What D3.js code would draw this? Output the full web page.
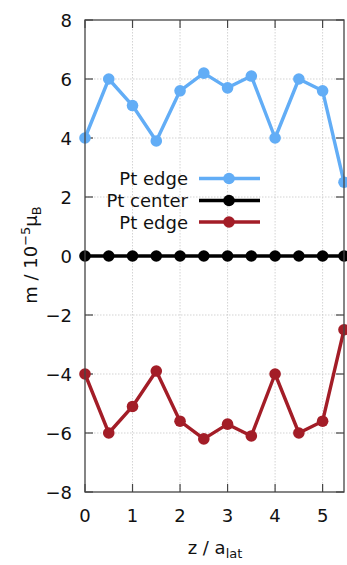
<!DOCTYPE html>
<html>
<head>
<meta charset="utf-8">
<script src="https://cdn.jsdelivr.net/npm/d3@7"></script>
<style>
  body { margin: 0; background: #fff; }
  svg { display: block; font-family: "DejaVu Sans", sans-serif; }
</style>
</head>
<body>
<svg id="chart" width="347" height="565"></svg>
<script>
// data
let zPos = [0, 0.5, 1, 1.5, 2, 2.5, 3, 3.5, 4, 4.5, 5, 5.45];
let edgeTop = [4.0, 6.0, 5.1, 3.9, 5.6, 6.2, 5.7, 6.1, 4.0, 6.0, 5.6, 2.5];
let center = [0, 0, 0, 0, 0, 0, 0, 0, 0, 0, 0, 0];
let edgeBot = [-4.0, -6.0, -5.1, -3.9, -5.6, -6.2, -5.7, -6.1, -4.0, -6.0, -5.6, -2.5];
let xTicks = [0, 1, 2, 3, 4, 5];
let yTicks = [-8, -6, -4, -2, 0, 2, 4, 6, 8];
let seriesNames = ['Pt edge', 'Pt center', 'Pt edge'];
let seriesColors = ['#62adf6', '#000000', '#a31d27'];

let svg = d3.select('#chart');
let margin = { left: 85, top: 20, right: 3, bottom: 73 };
let W = 347, H = 565;
let x = d3.scaleLinear().domain([0, 5.45]).range([margin.left, W - margin.right]);
let y = d3.scaleLinear().domain([-8, 8]).range([H - margin.bottom, margin.top]);

let x0 = x.range()[0], x1 = x.range()[1], y0 = y.range()[0], y1 = y.range()[1];
let fs = 18;

// grid
let grid = svg.append('g');
grid.selectAll('.gx').data(xTicks.slice(1)).enter().append('line')
    .attr('x1', d => x(d)).attr('x2', d => x(d))
    .attr('y1', y1).attr('y2', y0)
    .attr('stroke', '#c8c8c8').attr('stroke-width', 0.8).attr('stroke-dasharray', '1.5 1.5');
grid.selectAll('.gy').data(yTicks.slice(1, -1)).enter().append('line')
    .attr('x1', x0).attr('x2', x1)
    .attr('y1', d => y(d)).attr('y2', d => y(d))
    .attr('stroke', '#c8c8c8').attr('stroke-width', 0.8).attr('stroke-dasharray', '1.5 1.5');

// ticks (inward, on all four sides)
let tl = 8;
let tk = svg.append('g').attr('stroke', '#444').attr('stroke-width', 1.2);
xTicks.forEach(d => {
    tk.append('line').attr('x1', x(d)).attr('x2', x(d)).attr('y1', y0).attr('y2', y0 - tl);
    tk.append('line').attr('x1', x(d)).attr('x2', x(d)).attr('y1', y1).attr('y2', y1 + tl);
});
yTicks.forEach(d => {
    tk.append('line').attr('x1', x0).attr('x2', x0 + tl).attr('y1', y(d)).attr('y2', y(d));
    tk.append('line').attr('x1', x1).attr('x2', x1 - tl).attr('y1', y(d)).attr('y2', y(d));
});

// tick labels
svg.append('g').selectAll('text').data(xTicks).enter().append('text')
    .attr('x', d => x(d)).attr('y', 522)
    .attr('text-anchor', 'middle').attr('font-size', fs).attr('fill', '#111')
    .text(d => d);
svg.append('g').selectAll('text').data(yTicks).enter().append('text')
    .attr('x', 72).attr('y', d => y(d) + 6.5)
    .attr('text-anchor', 'end').attr('font-size', fs).attr('fill', '#111')
    .text(d => d < 0 ? '\u2212' + Math.abs(d) : d);

// series
let line = d3.line().x((d, i) => x(zPos[i])).y(d => y(d));
let allSeries = [edgeTop, center, edgeBot];
allSeries.forEach((s, k) => {
    let g = svg.append('g');
    g.append('path').datum(s)
        .attr('d', line)
        .attr('fill', 'none')
        .attr('stroke', seriesColors[k])
        .attr('stroke-width', 3.4)
        .attr('stroke-linejoin', 'round');
    g.selectAll('circle').data(s).enter().append('circle')
        .attr('cx', (d, i) => x(zPos[i]))
        .attr('cy', d => y(d))
        .attr('r', 5.8)
        .attr('fill', seriesColors[k]);
});

// frame
svg.append('rect')
    .attr('x', x0).attr('y', y1)
    .attr('width', x1 - x0).attr('height', y0 - y1)
    .attr('fill', 'none').attr('stroke', '#444').attr('stroke-width', 1.3);

// legend
let legY = [178.5, 200.5, 222];
seriesNames.forEach((name, k) => {
    let g = svg.append('g');
    g.append('text').attr('x', 188).attr('y', legY[k] + 6.5)
        .attr('text-anchor', 'end').attr('font-size', fs).attr('fill', '#111')
        .text(name);
    g.append('line').attr('x1', 199).attr('x2', 260)
        .attr('y1', legY[k]).attr('y2', legY[k])
        .attr('stroke', seriesColors[k]).attr('stroke-width', 3.4);
    g.append('circle').attr('cx', 229).attr('cy', legY[k]).attr('r', 5.8)
        .attr('fill', seriesColors[k]);
});

// axis titles
let yl = svg.append('text')
    .attr('transform', 'translate(37,255) rotate(-90)')
    .attr('text-anchor', 'middle').attr('font-size', fs).attr('fill', '#111');
yl.append('tspan').text('m / 10');
yl.append('tspan').attr('dy', -7).attr('font-size', 13).text('\u22125');
yl.append('tspan').attr('dy', 7).text('\u03bc');
yl.append('tspan').attr('dy', 4).attr('font-size', 13).text('B');

let xl = svg.append('text')
    .attr('x', 215).attr('y', 554)
    .attr('text-anchor', 'middle').attr('font-size', fs).attr('fill', '#111');
xl.append('tspan').text('z / a');
xl.append('tspan').attr('dy', 4).attr('font-size', 13).text('lat');
</script>
</body>
</html>
